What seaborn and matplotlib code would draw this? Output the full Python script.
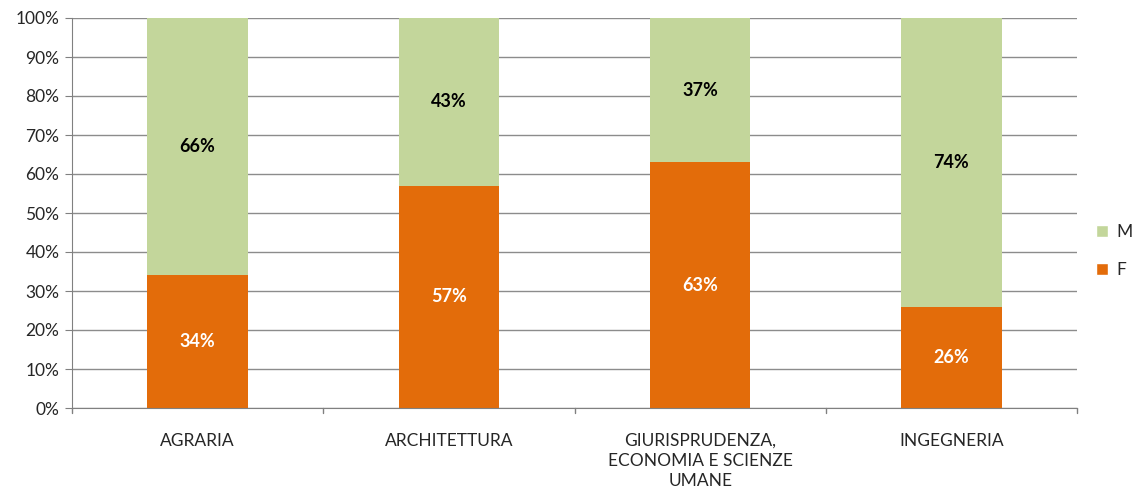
import numpy as np
import pandas as pd
import matplotlib
matplotlib.use('Agg')
import matplotlib.pyplot as plt
import seaborn as sns
from matplotlib.patches import Patch

# dati (percentuali per facoltà)
facolta = ['AGRARIA', 'ARCHITETTURA', 'GIURISPRUDENZA,\nECONOMIA E SCIENZE\nUMANE', 'INGEGNERIA']
perc_f = [34, 57, 63, 26]
perc_m = [66, 43, 37, 74]

col_f = '#E36C0A'
col_m = '#C3D69B'

sns.set_style('white')
plt.rcParams['font.family'] = ['Lato', 'DejaVu Sans']

df = pd.DataFrame({'facolta': facolta, 'F': perc_f, 'M': perc_m})

fig = plt.figure(figsize=(11.37, 4.90), dpi=100)
ax = fig.add_axes([72 / 1137, (490 - 408) / 490, 1005 / 1137, 390 / 490])

sns.barplot(data=df, x='facolta', y='F', color=col_f, width=0.4, ax=ax,
            saturation=1, linewidth=0, zorder=2)
sns.barplot(data=df, x='facolta', y='M', color=col_m, width=0.4, ax=ax,
            saturation=1, linewidth=0, bottom=df['F'], zorder=2)

# etichette centrate nei segmenti
for i in range(len(facolta)):
    ax.text(i, perc_f[i] / 2, '{}%'.format(perc_f[i]), ha='center', va='center',
            color='white', fontsize=13, fontweight='bold', zorder=3)
    ax.text(i, perc_f[i] + perc_m[i] / 2, '{}%'.format(perc_m[i]), ha='center', va='center',
            color='black', fontsize=13, fontweight='bold', zorder=3)

ax.set_ylim(0, 100)
ax.set_xlim(-0.5, len(facolta) - 0.5)
ax.set_yticks(np.arange(0, 101, 10))
ax.set_yticklabels(['{}%'.format(v) for v in range(0, 101, 10)], fontsize=12.5)
ax.set_xticks(range(len(facolta)))
ax.set_xticklabels(facolta, fontsize=12.5, linespacing=1.3)
ax.tick_params(axis='x', length=0, pad=18)
ax.tick_params(axis='y', length=5, color='#808080', left=True, pad=4)
ax.set_xlabel('')
ax.set_ylabel('')

ax.yaxis.grid(True, color='#8c8c8c', linewidth=1)
ax.set_axisbelow(True)
for s in ['top', 'right']:
    ax.spines[s].set_visible(False)
ax.spines['left'].set_color('#808080')
ax.spines['bottom'].set_color('#808080')

# tacche tra le categorie (stile excel)
for b in np.arange(-0.5, len(facolta), 1.0):
    ax.plot([b, b], [0, -1.3], color='#808080', linewidth=1, clip_on=False)

handles = [Patch(facecolor=col_m, label='M'), Patch(facecolor=col_f, label='F')]
fig.legend(handles=handles, loc='center left', bbox_to_anchor=(1080 / 1137, 1 - 251 / 490),
           frameon=False, fontsize=12.5, handlelength=0.7, handleheight=0.7,
           labelspacing=1.3, handletextpad=0.5)

fig.savefig('out.png', dpi=100)
